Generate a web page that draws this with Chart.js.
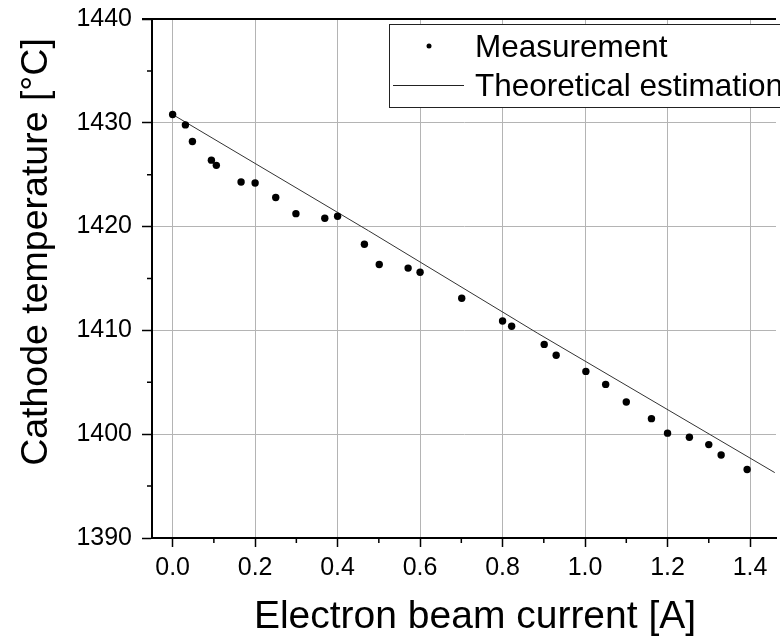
<!DOCTYPE html>
<html>
<head>
<meta charset="utf-8">
<script src="https://cdn.jsdelivr.net/npm/chart.js@4.4.1/dist/chart.umd.min.js"></script>
<style>
  html, body { margin: 0; padding: 0; background: #ffffff; }
  #wrap { width: 780px; height: 640px; }
</style>
</head>
<body>
<div id="wrap"><canvas id="grafico" width="780" height="640"></canvas></div>
<script>
// Datos
const corrienteA = [0.0, 0.031, 0.048, 0.094, 0.106, 0.166, 0.2, 0.25, 0.299, 0.369, 0.4, 0.465, 0.501, 0.571, 0.6,
    0.701, 0.8, 0.822, 0.901, 0.93, 1.002, 1.05, 1.1, 1.161, 1.2, 1.253, 1.3, 1.33, 1.393];
const temperaturaC = [1430.8, 1429.8, 1428.2, 1426.4, 1425.9, 1424.3, 1424.2, 1422.8, 1421.25, 1420.8, 1421.0, 1418.3,
    1416.35, 1416.0, 1415.6, 1413.1, 1410.9, 1410.4, 1408.65, 1407.6, 1406.05, 1404.8, 1403.1, 1401.5, 1400.1,
    1399.7, 1399.0, 1398.0, 1396.6];
const teoriaX = [0.0, 0.475, 0.884, 1.46];
const teoriaY = [1430.8, 1419.6, 1409.75, 1396.3];
const ticksX = [0.0, 0.2, 0.4, 0.6, 0.8, 1.0, 1.2, 1.4];
const ticksY = [1390, 1400, 1410, 1420, 1430, 1440];
const etiquetas = ["Measurement", "Theoretical estimation"];
const tituloY = "Cathode temperature [°C]";
const tituloX = "Electron beam current [A]";

const fuente = "'Liberation Sans', Arial, sans-serif";

const puntos = corrienteA.map((x, i) => ({ x: x, y: temperaturaC[i] }));
const teoria = teoriaX.map((x, i) => ({ x: x, y: teoriaY[i] }));

// Ticks menores, borde superior, títulos y leyenda con recuadro
const extras = {
    id: "extras",
    afterDraw(chart) {
        const ctx = chart.ctx;
        const a = chart.chartArea;
        const sx = chart.scales.x;
        const sy = chart.scales.y;
        ctx.save();
        ctx.strokeStyle = "#000";
        ctx.lineWidth = 1.5;
        ctx.beginPath();
        for (let i = 0; i < ticksX.length; i++) {
            const px = sx.getPixelForValue(ticksX[i] + 0.1);
            if (px < a.right) { ctx.moveTo(px, a.bottom); ctx.lineTo(px, a.bottom + 5); }
        }
        for (let i = 0; i < ticksY.length - 1; i++) {
            const py = sy.getPixelForValue(ticksY[i] + 5);
            ctx.moveTo(a.left, py); ctx.lineTo(a.left - 5, py);
        }
        ctx.stroke();

        // borde superior
        ctx.lineWidth = 2;
        ctx.beginPath();
        ctx.moveTo(a.left - 10, a.top);
        ctx.lineTo(a.right, a.top);
        ctx.stroke();

        // títulos de los ejes (el gráfico original está recortado a la derecha)
        ctx.fillStyle = "#000";
        ctx.textAlign = "center";
        ctx.textBaseline = "middle";
        ctx.font = "39px " + fuente;
        ctx.fillText(tituloX, 475, 617);
        ctx.save();
        ctx.translate(37, 252);
        ctx.rotate(-Math.PI / 2);
        ctx.font = "37.5px " + fuente;
        ctx.fillText(tituloY, 0, 0);
        ctx.restore();

        // leyenda
        const lx = a.left + 237, ly = a.top + 5;
        ctx.fillStyle = "#fff";
        ctx.fillRect(lx, ly, 500, 83);
        ctx.lineWidth = 1;
        ctx.strokeStyle = "#222";
        ctx.strokeRect(lx + 0.5, ly + 0.5, 500, 83);
        ctx.fillStyle = "#000";
        ctx.beginPath();
        ctx.arc(lx + 40, ly + 22, 2.5, 0, Math.PI * 2);
        ctx.fill();
        ctx.beginPath();
        ctx.moveTo(lx + 4, ly + 61.5);
        ctx.lineTo(lx + 75, ly + 61.5);
        ctx.stroke();
        ctx.font = "31.5px " + fuente;
        ctx.textAlign = "left";
        ctx.textBaseline = "alphabetic";
        ctx.fillText(etiquetas[0], lx + 86, ly + 33);
        ctx.fillText(etiquetas[1], lx + 86, ly + 72);
        ctx.restore();
    }
};

new Chart(document.getElementById("grafico"), {
    type: "scatter",
    data: {
        datasets: [{
            label: etiquetas[0],
            data: puntos,
            backgroundColor: "#000",
            borderColor: "#000",
            pointRadius: 3.7,
            pointBorderWidth: 0
        }, {
            label: etiquetas[1],
            data: teoria,
            showLine: true,
            borderColor: "#333",
            borderWidth: 1,
            pointRadius: 0,
            fill: false
        }]
    },
    options: {
        responsive: false,
        animation: false,
        layout: { padding: { top: 19, right: 0, left: 0, bottom: 0 } },
        plugins: {
            legend: { display: false },
            tooltip: { enabled: false }
        },
        scales: {
            x: {
                type: "linear",
                min: -0.05,
                max: 1.463,
                afterBuildTicks: s => { s.ticks = ticksX.map(v => ({ value: v })); },
                afterFit: s => { s.height = 102; s.paddingLeft = 0; s.paddingRight = 0; },
                ticks: {
                    color: "#000",
                    font: { family: fuente, size: 25, lineHeight: 1 },
                    padding: 9,
                    maxRotation: 0,
                    callback: v => v.toFixed(1)
                },
                grid: { color: "#b4b4b4", lineWidth: 1, tickLength: 9, tickColor: "#000", tickWidth: 1.5 },
                border: { color: "#000", width: 2 },
                title: { display: false }
            },
            y: {
                type: "linear",
                min: 1390,
                max: 1440,
                afterBuildTicks: s => { s.ticks = ticksY.map(v => ({ value: v })); },
                afterFit: s => { s.width = 152; s.paddingTop = 0; s.paddingBottom = 0; },
                ticks: {
                    color: "#000",
                    font: { family: fuente, size: 25, lineHeight: 1 },
                    padding: 10,
                    callback: v => String(v)
                },
                grid: { color: "#b4b4b4", lineWidth: 1, tickLength: 10, tickColor: "#000", tickWidth: 1.5 },
                border: { color: "#000", width: 2 },
                title: { display: false }
            }
        }
    },
    plugins: [extras]
});
</script>
</body>
</html>
